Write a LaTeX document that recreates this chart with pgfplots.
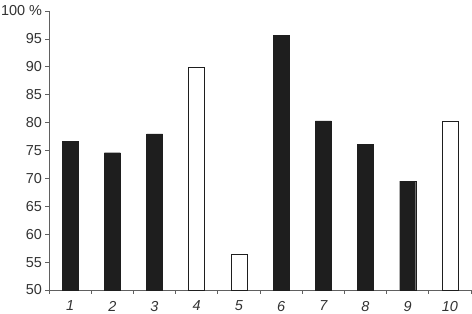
\documentclass[border=0pt]{standalone}
\usepackage{pgfplots}
\pgfplotsset{compat=1.18}
\usepackage{fontspec}
\setmainfont{Liberation Sans}
\definecolor{barblack}{HTML}{1E1E1E}
\definecolor{axisgray}{HTML}{606060}
\definecolor{labgray}{HTML}{333333}
\begin{document}
\begin{tikzpicture}
\begin{axis}[
  at={(0,0)}, anchor=south west,
  scale only axis, width=422bp, height=279bp,
  xmin=0.5, xmax=10.5, ymin=50, ymax=100,
  axis x line*=bottom, axis y line*=left,
  axis line style={-, draw=axisgray, line width=0.9pt},
  tick align=outside,
  ytick={50,55,...,100},
  yticklabels={50,55,60,65,70,75,80,85,90,95,100 \%},
  xtick={1,...,10},
  xticklabels={1,2,3,4,5,6,7,8,9,10},
  minor xtick={0.5,1.5,...,10.5},
  xtick style={draw=none},
  minor x tick style={draw=axisgray, line width=0.8pt},
  y tick style={draw=axisgray, line width=0.8pt},
  major tick length=3.5bp, minor tick length=3.5bp,
  tick label style={font=\fontsize{14.5}{17}\selectfont, text=labgray},
  xticklabel style={font=\fontsize{14.5}{17}\selectfont\itshape, yshift=-4bp},
  /pgf/number format/assume math mode=true,
  ybar, bar width=16bp,
  clip=false,
]
\addplot[ybar, bar shift=0pt, fill=barblack, draw=barblack] coordinates {
 (1,76.7) (2,74.6) (3,78.0) (6,95.6) (7,80.3) (8,76.1) (9,69.5)};
\addplot[ybar, bar shift=0pt, fill=white, draw=barblack, line width=0.8pt] coordinates {
 (4,89.9) (5,56.3) (10,80.2)};
\end{axis}
\pgfresetboundingbox
\path (-49bp,-24bp) rectangle (423bp,290bp);
\end{tikzpicture}
\end{document}
